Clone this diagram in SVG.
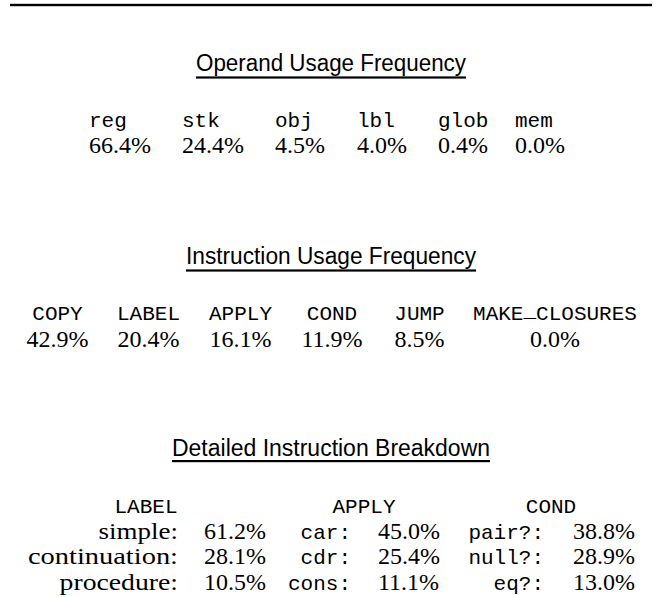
<svg xmlns="http://www.w3.org/2000/svg" width="662" height="597" viewBox="0 0 662 597">
  <style>
    .sans { font-family: "Liberation Sans", Arial, sans-serif; font-size: 23px; fill: #000; }
    .tt { font-family: "Liberation Mono", "DejaVu Sans Mono", monospace; font-size: 21px; fill: #000; }
    .rm { font-family: "Liberation Serif", "Times New Roman", serif; font-size: 24px; fill: #000; }
    .c { text-anchor: middle; }
    .r { text-anchor: end; }
    .rule { fill: #000; }
  </style>
  <rect x="0" y="0" width="662" height="597" fill="#fff"/>
  <rect class="rule" x="10" y="3.8" width="642" height="2.4"/>

  <g id="operand-usage">
    <text class="sans" x="196" y="70.5" textLength="270" lengthAdjust="spacingAndGlyphs">Operand Usage Frequency</text>
    <rect class="rule" x="196" y="76.4" width="270" height="2.2"/>
    <g class="tt">
      <text x="89" y="126.5">reg</text>
      <text x="182" y="126.5">stk</text>
      <text x="275" y="126.5">obj</text>
      <text x="357" y="126.5">lbl</text>
      <text x="438" y="126.5">glob</text>
      <text x="515" y="126.5">mem</text>
    </g>
    <g class="rm">
      <text x="89" y="152.5">66.4%</text>
      <text x="182" y="152.5">24.4%</text>
      <text x="275" y="152.5">4.5%</text>
      <text x="357" y="152.5">4.0%</text>
      <text x="438" y="152.5">0.4%</text>
      <text x="515" y="152.5">0.0%</text>
    </g>
  </g>

  <g id="instruction-usage">
    <text class="sans" x="186" y="263.5" textLength="290" lengthAdjust="spacingAndGlyphs">Instruction Usage Frequency</text>
    <rect class="rule" x="186" y="269.4" width="290" height="2.2"/>
    <g class="tt c">
      <text x="57.5" y="320">COPY</text>
      <text x="148.5" y="320">LABEL</text>
      <text x="240.5" y="320">APPLY</text>
      <text x="332" y="320">COND</text>
      <text x="419.5" y="320">JUMP</text>
      <text x="555" y="320">MAKE<tspan dy="-3">_</tspan><tspan dy="3">CLOSURES</tspan></text>
    </g>
    <g class="rm c">
      <text x="57.5" y="347">42.9%</text>
      <text x="148.5" y="347">20.4%</text>
      <text x="240.5" y="347">16.1%</text>
      <text x="332" y="347">11.9%</text>
      <text x="419.5" y="347">8.5%</text>
      <text x="555" y="347">0.0%</text>
    </g>
  </g>

  <g id="detailed-breakdown">
    <text class="sans" x="172" y="456" textLength="318" lengthAdjust="spacingAndGlyphs">Detailed Instruction Breakdown</text>
    <rect class="rule" x="172" y="460" width="318" height="2.2"/>
    <g class="tt c">
      <text x="146" y="513">LABEL</text>
      <text x="364" y="513">APPLY</text>
      <text x="551" y="513">COND</text>
    </g>
    <g id="label-col">
      <text class="rm" x="98.6" y="538.7" textLength="79.4" lengthAdjust="spacingAndGlyphs">simple:</text>
      <text class="rm" x="28" y="564.3" textLength="150" lengthAdjust="spacingAndGlyphs">continuation:</text>
      <text class="rm" x="59.6" y="590" textLength="118.4" lengthAdjust="spacingAndGlyphs">procedure:</text>
      <text class="rm" x="204" y="538.7">61.2%</text>
      <text class="rm" x="204" y="564.3">28.1%</text>
      <text class="rm" x="204" y="590">10.5%</text>
    </g>
    <g id="apply-col">
      <text class="tt r" x="351" y="538.7">car:</text>
      <text class="tt r" x="351" y="564.3">cdr:</text>
      <text class="tt r" x="351" y="590">cons:</text>
      <text class="rm" x="378" y="538.7">45.0%</text>
      <text class="rm" x="378" y="564.3">25.4%</text>
      <text class="rm" x="378" y="590">11.1%</text>
    </g>
    <g id="cond-col">
      <text class="tt r" x="544" y="538.7">pair?:</text>
      <text class="tt r" x="544" y="564.3">null?:</text>
      <text class="tt r" x="544" y="590">eq?:</text>
      <text class="rm" x="573" y="538.7">38.8%</text>
      <text class="rm" x="573" y="564.3">28.9%</text>
      <text class="rm" x="573" y="590">13.0%</text>
    </g>
  </g>
</svg>
